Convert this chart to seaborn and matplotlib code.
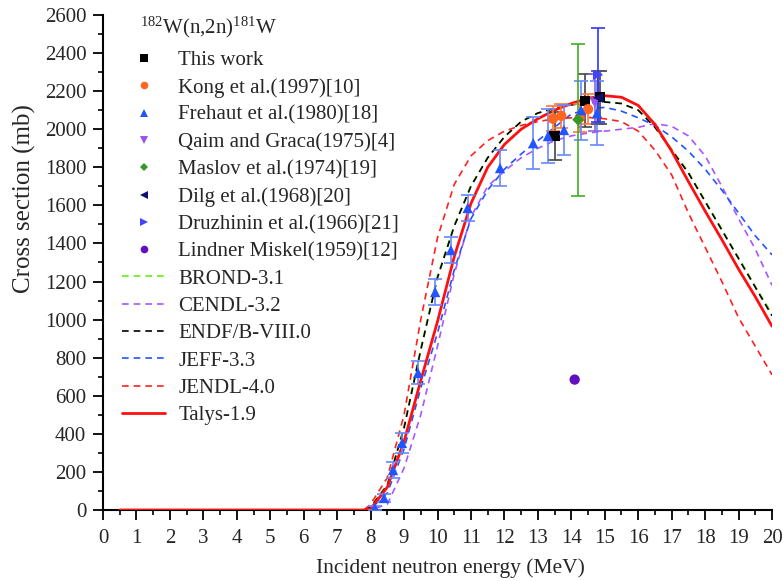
import numpy as np
import pandas as pd
import matplotlib
matplotlib.use("Agg")
import matplotlib.pyplot as plt
from matplotlib.lines import Line2D
from matplotlib.ticker import MultipleLocator
import seaborn as sns

# ---------------- data ----------------
curve_E = [0.5, 7.5, 7.8, 8.0, 8.5, 9.0, 9.5, 10.0, 10.5, 11.0, 11.5, 12.0, 12.5, 13.0, 13.5,
           14.0, 14.5, 15.0, 15.5, 16.0, 16.5, 17.0, 17.5, 18.0, 18.5, 19.0, 19.5, 20.0]
brond = [0, 0, 0, 15, 135, 440, 850, 1230, 1495, 1705, 1850, 1960, 2040, 2085, 2110,
         2128, 2140, 2143, 2135, 2100, 2015, 1895, 1775, 1625, 1475, 1325, 1175, 1030]
cendl = [0, 0, 0, 0, 30, 220, 500, 860, 1240, 1540, 1700, 1780, 1850, 1900, 1940,
         1965, 1980, 1990, 2000, 2010, 2030, 2015, 1965, 1860, 1700, 1530, 1370, 1180]
endf = [0, 0, 0, 15, 130, 430, 840, 1220, 1490, 1700, 1850, 1960, 2040, 2085, 2110,
        2128, 2140, 2143, 2135, 2100, 2010, 1890, 1770, 1620, 1470, 1320, 1170, 1020]
jeff = [0, 0, 0, 5, 90, 320, 640, 930, 1260, 1530, 1680, 1790, 1870, 1940, 2010,
        2080, 2105, 2115, 2095, 2060, 2020, 1960, 1885, 1790, 1680, 1560, 1440, 1340]
jendl = [0, 0, 0, 30, 170, 500, 1000, 1430, 1710, 1860, 1940, 1990, 2020, 2040, 2055,
         2060, 2062, 2055, 2040, 1990, 1890, 1760, 1560, 1380, 1200, 1010, 860, 710]
talys = [0, 0, 0, 5, 120, 360, 680, 990, 1330, 1610, 1800, 1920, 2000, 2055, 2100,
         2135, 2163, 2176, 2168, 2125, 2025, 1885, 1725, 1570, 1420, 1265, 1120, 965]

this_E = [13.5, 14.4, 14.85]
this_S = [1965, 2150, 2168]
this_err = [125, 140, 140]

kong_E = [13.45, 13.7, 14.25, 14.5]
kong_S = [2055, 2070, 2060, 2105]
kong_err = [65, 65, 75, 80]

freh_E = [8.13, 8.4, 8.67, 8.94, 9.42, 9.93, 10.4, 10.9, 11.87, 12.86, 13.3, 13.78, 14.29, 14.77]
freh_S = [10, 63, 210, 352, 720, 1145, 1365, 1586, 1796, 1927, 1964, 1996, 2100, 2085]
freh_err = [10, 20, 40, 50, 60, 70, 70, 70, 95, 135, 140, 130, 155, 170]

qaim_E = [14.7]
qaim_S = [2140]
qaim_err = [150]

maslov_E = [14.2]
maslov_S = [2050]
maslov_err = [400]

dilg_E = [14.8]
dilg_S = [2165]
dilg_err = [140]

druz_E = [14.8]
druz_S = [2285]
druz_err = [245]

lind_E = [14.1]
lind_S = [685]

# ---------------- style ----------------
sns.set_style("ticks")
plt.rcParams['font.family'] = ['Liberation Serif', 'DejaVu Serif']
plt.rcParams['mathtext.fontset'] = 'custom'
plt.rcParams['mathtext.rm'] = 'Liberation Serif'

fig = plt.figure(figsize=(7.83, 5.81), dpi=100)
ax = fig.add_axes([0.1315, 0.1222, 0.8545, 0.852])

curves = [
    ("BROND-3.1", brond, "#66ee11", (0, (4, 3))),
    ("CENDL-3.2", cendl, "#aa55ff", (0, (4, 3))),
    ("ENDF/B-VIII.0", endf, "black", (0, (4, 3))),
    ("JEFF-3.3", jeff, "#2255ff", (0, (4, 3))),
    ("JENDL-4.0", jendl, "#ff2020", (0, (4, 3))),
    ("Talys-1.9", talys, "#ff1010", "-"),
]

curve_handles = []
for name, vals, col, ls in curves:
    df = pd.DataFrame({"E": curve_E, "S": vals})
    lw = 2.0 if ls == "-" else 1.2
    sns.lineplot(data=df, x="E", y="S", ax=ax, color=col, linestyle=ls, linewidth=lw,
                 zorder=3 if ls == "-" else 2, legend=False)
    curve_handles.append(Line2D([], [], color=col, linestyle=ls, linewidth=lw, label=name))

points = [
    ("This work", this_E, this_S, this_err, "black", "s", "#444444"),
    ("Kong et al.(1997)[10]", kong_E, kong_S, kong_err, "#ff6622", "o", "#ff7733"),
    ("Frehaut et al.(1980)[18]", freh_E, freh_S, freh_err, "#2255ff", "^", "#6688ff"),
    ("Qaim and Graca(1975)[4]", qaim_E, qaim_S, qaim_err, "#9955ee", "v", "#8866dd"),
    ("Maslov et al.(1974)[19]", maslov_E, maslov_S, maslov_err, "#339922", "D", "#44aa22"),
    ("Dilg et al.(1968)[20]", dilg_E, dilg_S, dilg_err, "#101070", "<", "#555577"),
    ("Druzhinin et al.(1966)[21]", druz_E, druz_S, druz_err, "#4444ff", ">", "#3333ff"),
    ("Lindner Miskel(1959)[12]", lind_E, lind_S, None, "#6010c0", "o", None),
]

point_handles = []
for name, E, S, err, col, mk, ecol in points:
    if err is not None:
        ax.errorbar(E, S, yerr=err, fmt="none", ecolor=ecol, elinewidth=1.2,
                    capsize=5, capthick=1.2, zorder=4)
    df = pd.DataFrame({"E": E, "S": S})
    ms = 55 if mk != "D" else 35
    sns.scatterplot(data=df, x="E", y="S", ax=ax, color=col, marker=mk, s=ms,
                    edgecolor="none", zorder=5, legend=False)
    point_handles.append(Line2D([], [], color=col, marker=mk, linestyle="none",
                                markersize=5.5 if mk != "D" else 4.5, markeredgewidth=0,
                                label=name))

ax.set_xlim(0, 20)
ax.set_ylim(0, 2600)
ax.xaxis.set_major_locator(MultipleLocator(1))
ax.xaxis.set_minor_locator(MultipleLocator(0.5))
ax.yaxis.set_major_locator(MultipleLocator(200))
ax.yaxis.set_minor_locator(MultipleLocator(100))
ax.tick_params(which="major", direction="out", length=7, width=1.3, labelsize=15, pad=5,
               color="black")
ax.tick_params(which="minor", direction="out", length=3.6, width=1.2, color="black")
ax.tick_params(axis="x", which="major", pad=7)
for side in ("top", "right"):
    ax.spines[side].set_visible(False)
for side in ("left", "bottom"):
    ax.spines[side].set_linewidth(1.5)
    ax.spines[side].set_color("black")
ax.set_xlabel("Incident neutron energy (MeV)", fontsize=15.5)
ax.set_ylabel("Cross section (mb)", fontsize=18)
ax.xaxis.set_label_coords(0.519, -0.097)
ax.yaxis.set_label_coords(-0.10, 0.63)

leg = ax.legend(handles=point_handles + curve_handles, loc="upper left",
                bbox_to_anchor=(0.016, 0.945), frameon=False, fontsize=15,
                labelspacing=0.37, handlelength=2.07, handletextpad=0.63,
                borderaxespad=0.0, borderpad=0.4)

fig.text(140 / 783, 1 - 27 / 581,
         r"$\mathregular{^{182}}$W(n,2n)$\mathregular{^{181}}$W",
         fontsize=15, ha="left", va="center")

fig.savefig("out.png", dpi=100)
